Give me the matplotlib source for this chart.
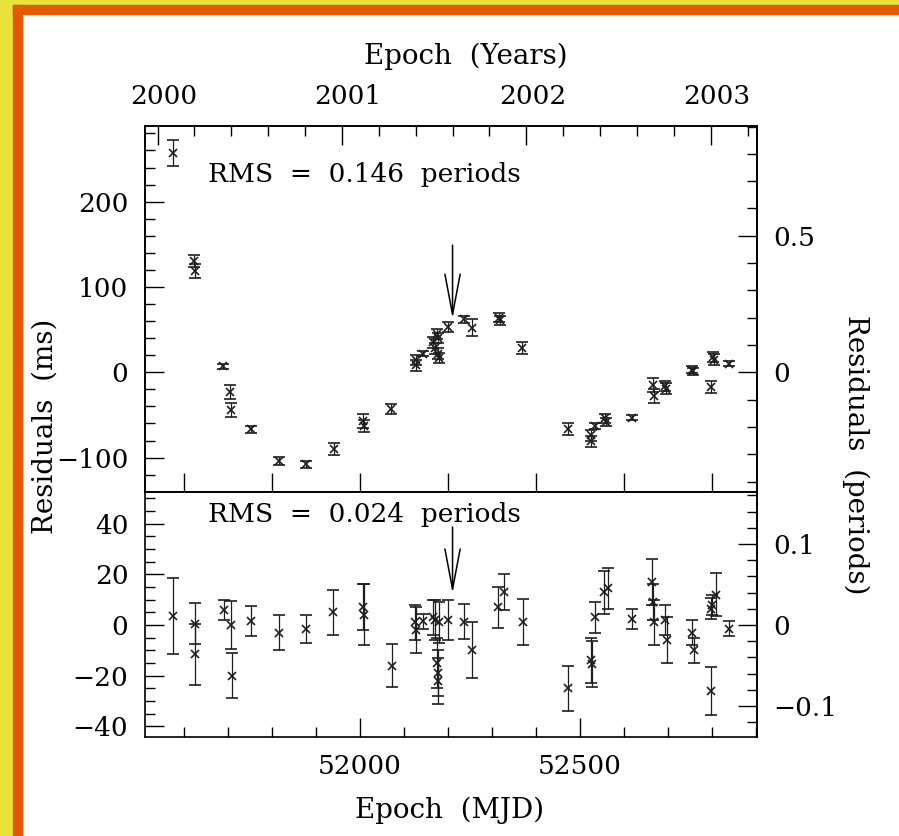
import matplotlib
matplotlib.use('Agg')
import matplotlib.pyplot as plt
from matplotlib.patches import Rectangle
from matplotlib.ticker import MultipleLocator, FuncFormatter
from matplotlib.transforms import ScaledTranslation

plt.rcParams['font.family'] = ['DejaVu Serif']

# pulse period in ms, used for the right-hand axes
period_ms = 320.0

# upper panel: residuals before fit (MJD, ms, error ms)
top_mjd = [51575, 51622, 51624, 51689, 51705, 51707, 51753, 51815, 51877, 51940,
           52006, 52008, 52070, 52126, 52128, 52142, 52165, 52170, 52174, 52176,
           52178, 52179, 52200, 52237, 52255, 52315, 52318, 52368, 52473, 52524,
           52525, 52534, 52556, 52558, 52619, 52665, 52667, 52694, 52696, 52755,
           52757, 52797, 52802, 52804, 52839]
top_res = [257, 130, 119, 7, -23, -44, -67, -104, -108, -90,
           -57, -63, -43, 14, 8, 22, 35, 28, 45, 40,
           22, 17, 53, 62, 52, 64, 61, 29, -67, -74,
           -81, -63, -54, -58, -53, -15, -28, -16, -19, 3,
           1, -17, 18, 15, 10]
top_err = [15, 7, 8, 3, 8, 8, 4, 5, 4, 7,
           8, 7, 6, 6, 6, 3, 6, 6, 6, 6,
           6, 6, 6, 4, 10, 5, 5, 7, 7, 6,
           6, 4, 5, 5, 3, 8, 8, 6, 6, 4,
           4, 7, 6, 6, 3]

# lower panel: residuals after fit
bot_mjd = [51574, 51624, 51625, 51690, 51707, 51708, 51753, 51816, 51877, 51939,
           52006, 52008, 52073, 52125, 52127, 52142, 52165, 52170, 52175, 52176,
           52178, 52179, 52200, 52237, 52255, 52314, 52327, 52371, 52473, 52525,
           52526, 52533, 52554, 52564, 52619, 52664, 52666, 52668, 52693, 52697,
           52754, 52758, 52797, 52798, 52800, 52808, 52838]
bot_res = [3.5, 0.5, -11.5, 6, 0, -20, 1.6, -3, -1.5, 5,
           7, 4, -16, 1, -2, 1.5, 3, 2, -15, -19,
           -22, 1, 2, 1.3, -10, 7, 13, 1.3, -25, -14,
           -15.5, 3, 13, 14.5, 2.4, 17, 9, 1, 2, -6,
           -3, -10, -26, 6.5, 8, 12, -1.5]
bot_err = [15, 8, 12, 4, 9.5, 9, 6, 7, 5.5, 9,
           9, 12, 8.5, 7, 9, 3, 7, 8, 10, 9,
           9, 8, 8, 7, 11, 8, 7, 9, 9, 9,
           9, 6, 8.5, 8, 4, 9, 7, 9, 6, 9,
           5, 5, 9.5, 4, 4, 8.5, 3]

arrow_mjd = 52210
mjd_lim = (51511, 52902)
year_lim = (1999.932, 2003.251)

W, H = 899, 836
fig = plt.figure(figsize=(W / 100, H / 100), dpi=100)
fig.patch.set_facecolor('white')

# coloured frame at top and left
yellow = '#e8e23a'
orange = '#e25a06'
fig.patches.append(Rectangle((0, 0), 13 / W, 1, transform=fig.transFigure, color=yellow, zorder=-5))
fig.patches.append(Rectangle((0, 1 - 5 / H), 1, 5 / H, transform=fig.transFigure, color=yellow, zorder=-5))
fig.patches.append(Rectangle((13 / W, 0), 9 / W, 1 - 5 / H, transform=fig.transFigure, color=orange, zorder=-4))
fig.patches.append(Rectangle((13 / W, 1 - 14 / H), 1, 9 / H, transform=fig.transFigure, color=orange, zorder=-4))

left, right = 145 / W, 757 / W
ax1 = fig.add_axes([left, 1 - 492 / H, right - left, (492 - 126) / H])
ax2 = fig.add_axes([left, 1 - 737 / H, right - left, (737 - 492) / H])

fs_tick = 19
fs_lab = 20
mark_col = '#1e1e1e'


def style(ax):
    for s in ax.spines.values():
        s.set_linewidth(1.2)
    ax.tick_params(which='both', direction='in', labelsize=fs_tick, width=1.0, pad=12)
    ax.tick_params(which='major', length=14)
    ax.tick_params(which='minor', length=7.5)


def fmt(v, pos):
    return ('%g' % v).replace('-', '\u2212')


ax1.errorbar(top_mjd, top_res, yerr=top_err, fmt='x', color=mark_col, ms=6, mew=1.2,
             elinewidth=0.9, capsize=4.5, capthick=0.9)
ax1.set_xlim(*mjd_lim)
ax1.set_ylim(-140.3, 288.7)
ax1.yaxis.set_major_locator(MultipleLocator(100))
ax1.yaxis.set_minor_locator(MultipleLocator(20))
ax1.yaxis.set_major_formatter(FuncFormatter(fmt))
ax1.tick_params(axis='x', which='both', bottom=False, labelbottom=False)
ax1.tick_params(axis='y', which='both', right=False)
style(ax1)

ax2.errorbar(bot_mjd, bot_res, yerr=bot_err, fmt='x', color=mark_col, ms=6, mew=1.2,
             elinewidth=0.9, capsize=4.5, capthick=0.9)
ax2.set_xlim(*mjd_lim)
ax2.set_ylim(-44.2, 52.5)
ax2.yaxis.set_major_locator(MultipleLocator(20))
ax2.yaxis.set_minor_locator(MultipleLocator(5))
ax2.yaxis.set_major_formatter(FuncFormatter(fmt))
ax2.xaxis.set_major_locator(MultipleLocator(500))
ax2.xaxis.set_minor_locator(MultipleLocator(100))
ax2.tick_params(axis='x', which='both', top=False)
ax2.tick_params(axis='y', which='both', right=False)
style(ax2)

# top axis in years
axy = ax1.twiny()
axy.set_xlim(*year_lim)
axy.xaxis.set_major_locator(MultipleLocator(1))
axy.xaxis.set_minor_locator(MultipleLocator(0.2))
axy.xaxis.set_major_formatter(FuncFormatter(lambda v, p: '%d' % round(v)))
style(axy)
# year labels sit a little right of their ticks in the original
shift = ScaledTranslation(6 / 100, 0, fig.dpi_scale_trans)
for t in axy.xaxis.get_major_ticks():
    t.label2.set_transform(t.label2.get_transform() + shift)

# right axes in pulse periods
r1 = ax1.secondary_yaxis('right', functions=(lambda v: v / period_ms, lambda v: v * period_ms))
r1.yaxis.set_major_locator(MultipleLocator(0.5))
r1.yaxis.set_minor_locator(MultipleLocator(0.1))
r1.yaxis.set_major_formatter(FuncFormatter(fmt))
style(r1)
r2 = ax2.secondary_yaxis('right', functions=(lambda v: v / period_ms, lambda v: v * period_ms))
r2.yaxis.set_major_locator(MultipleLocator(0.1))
r2.yaxis.set_minor_locator(MultipleLocator(0.02))
r2.yaxis.set_major_formatter(FuncFormatter(fmt))
style(r2)

ax1.text(51654, 223.4, 'RMS  =  0.146  periods', fontsize=19, va='baseline', ha='left')
ax2.text(51654, 40.7, 'RMS  =  0.024  periods', fontsize=19, va='baseline', ha='left')

arrow = dict(arrowstyle='->,head_length=2.9,head_width=0.55', mutation_scale=10, lw=1.1, color='black',
             shrinkA=0, shrinkB=0)
ax1.annotate('', xy=(arrow_mjd, 63), xytext=(arrow_mjd, 149), arrowprops=arrow)
ax2.annotate('', xy=(arrow_mjd, 12.5), xytext=(arrow_mjd, 38.7), arrowprops=arrow)

fig.text(466 / W, 1 - 56 / H, 'Epoch  (Years)', fontsize=fs_lab, ha='center', va='center')
fig.text(450 / W, 1 - 810 / H, 'Epoch  (MJD)', fontsize=fs_lab, ha='center', va='center')
fig.text(45 / W, 1 - 426 / H, 'Residuals  (ms)', fontsize=fs_lab, ha='center', va='center', rotation=90)
fig.text(856 / W, 1 - 455 / H, 'Residuals  (periods)', fontsize=fs_lab, ha='center', va='center', rotation=-90)

fig.savefig('out.png', dpi=100)
plt.close(fig)
